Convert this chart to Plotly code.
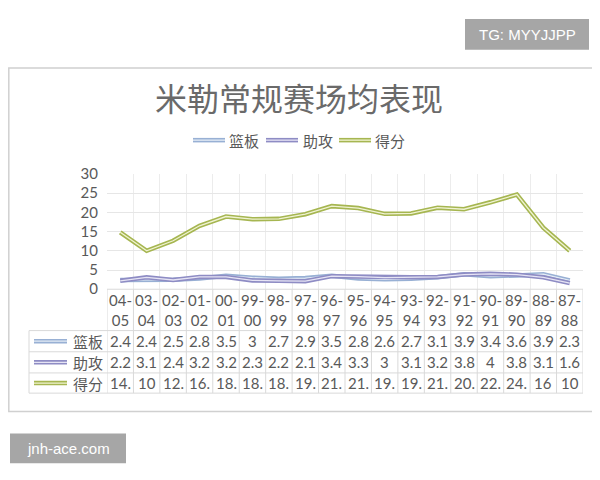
import plotly.graph_objects as go

# ---------------- data ----------------
categories = ["04-05", "03-04", "02-03", "01-02", "00-01", "99-00", "98-99", "97-98", "96-97",
              "95-96", "94-95", "93-94", "92-93", "91-92", "90-91", "89-90", "88-89", "87-88"]
rebounds = [2.4, 2.4, 2.5, 2.8, 3.5, 3.0, 2.7, 2.9, 3.5, 2.8, 2.6, 2.7, 3.1, 3.9, 3.4, 3.6, 3.9, 2.3]
assists = [2.2, 3.1, 2.4, 3.2, 3.2, 2.3, 2.2, 2.1, 3.4, 3.3, 3.0, 3.1, 3.2, 3.8, 4.0, 3.8, 3.1, 1.6]
points = [14.8, 10.0, 12.6, 16.5, 18.9, 18.2, 18.3, 19.5, 21.6, 21.1, 19.6, 19.7, 21.2, 20.8, 22.6, 24.6, 16.0, 10.0]
series_names = ["篮板", "助攻", "得分"]
y_ticks = [0, 5, 10, 15, 20, 25, 30]
title_text = "米勒常规赛场均表现"

# ---------------- styles ----------------
# page body has an 8px margin: the figure is placed at (8, 8) in the window
OFF = 8
W, H = 592, 472
outer_colors = ["#98b0d4", "#8e8cc4", "#a6b651"]
inner_colors = ["#e4ecf6", "#e6e4f4", "#f0f3d2"]
text_color = "#595959"
grid_color = "#d9d9d9"
CJK = "Noto Sans CJK SC"
NUM = "Lato"


def px(x):
    return (x - OFF) / W


def py(y):
    return 1 - (y - OFF) / H


plot_left, plot_right, plot_top, plot_bottom = 107, 583, 170, 290
row_lines = [333, 355, 377, 398]
legend_col_left = 29

x_idx = list(range(len(categories)))
series = [rebounds, assists, points]

fig = go.Figure()
for name, vals, oc, ic in zip(series_names, series, outer_colors, inner_colors):
    fig.add_trace(go.Scatter(x=x_idx, y=vals, mode="lines", name=name,
                             line=dict(color=oc, width=4.5), showlegend=False, hoverinfo="skip"))
    fig.add_trace(go.Scatter(x=x_idx, y=vals, mode="lines", name=name,
                             line=dict(color=ic, width=1.3), showlegend=False))

boundaries = [i - 0.5 for i in range(len(categories) + 1)]

fig.update_xaxes(domain=[px(plot_left), px(plot_right)], range=[-0.5, len(categories) - 0.5],
                 tickvals=boundaries, showticklabels=False, showgrid=True, gridcolor="#ececec",
                 gridwidth=1, zeroline=False, showline=False, fixedrange=True)
fig.update_yaxes(domain=[py(plot_bottom), py(plot_top)], range=[0, 30], tickvals=y_ticks,
                 showgrid=True, gridcolor="#e6e6e6", zeroline=False, showline=False,
                 tickfont=dict(family=NUM, size=15, color=text_color), ticks="",
                 ticklabelstandoff=8, fixedrange=True)

shapes = []
annotations = []

# outer frame (left edge kept inside the visible figure area)
shapes.append(dict(type="rect", xref="paper", yref="paper", x0=px(8.8), x1=px(597), y0=py(417), y1=py(60),
                   line=dict(color="#d0d0d0", width=1.5), layer="below"))

# axis line
shapes.append(dict(type="line", xref="paper", yref="paper", x0=px(plot_left), x1=px(plot_right),
                   y0=py(plot_bottom), y1=py(plot_bottom), line=dict(color=grid_color, width=1)))

# table vertical lines (category boundaries)
for b in boundaries:
    shapes.append(dict(type="line", xref="x", yref="paper", x0=b, x1=b,
                       y0=py(plot_bottom), y1=py(row_lines[-1]), line=dict(color=grid_color, width=1)))
# table left column border
shapes.append(dict(type="line", xref="paper", yref="paper", x0=px(legend_col_left), x1=px(legend_col_left),
                   y0=py(row_lines[0]), y1=py(row_lines[-1]), line=dict(color=grid_color, width=1)))
# table horizontal lines
for r in row_lines:
    shapes.append(dict(type="line", xref="paper", yref="paper", x0=px(legend_col_left), x1=px(plot_right),
                       y0=py(r), y1=py(r), line=dict(color=grid_color, width=1)))

# category labels (two lines)
for i, c in enumerate(categories):
    a, b = c.split("-")
    annotations.append(dict(x=i, y=py(312), xref="x", yref="paper", text=a + "-<br>" + b,
                            showarrow=False, font=dict(family=NUM, size=15, color=text_color),
                            xanchor="center", yanchor="middle", align="center"))


def cell_text(v):
    s = f"{v:g}"
    return s[:3]


# table rows
for r, (name, vals, oc, ic) in enumerate(zip(series_names, series, outer_colors, inner_colors)):
    yc = (row_lines[r] + row_lines[r + 1]) / 2
    # legend key in table
    shapes.append(dict(type="line", xref="paper", yref="paper", x0=px(34), x1=px(67),
                       y0=py(yc), y1=py(yc), line=dict(color=oc, width=4.5)))
    shapes.append(dict(type="line", xref="paper", yref="paper", x0=px(34), x1=px(67),
                       y0=py(yc), y1=py(yc), line=dict(color=ic, width=1.3)))
    annotations.append(dict(x=px(88), y=py(yc), xref="paper", yref="paper", text=name, showarrow=False,
                            font=dict(family=CJK, size=15, color=text_color), xanchor="center",
                            yanchor="middle"))
    for i, v in enumerate(vals):
        annotations.append(dict(x=i, y=py(yc), xref="x", yref="paper", text=cell_text(v), showarrow=False,
                                font=dict(family=NUM, size=15, color=text_color), xanchor="center",
                                yanchor="middle"))

# top legend (custom, double lines)
legend_items = [(193, 225, 244), (266, 298, 318), (339, 371, 390)]
for (s0, s1, tx), name, oc, ic in zip(legend_items, series_names, outer_colors, inner_colors):
    shapes.append(dict(type="line", xref="paper", yref="paper", x0=px(s0), x1=px(s1),
                       y0=py(135), y1=py(135), line=dict(color=oc, width=4.5)))
    shapes.append(dict(type="line", xref="paper", yref="paper", x0=px(s0), x1=px(s1),
                       y0=py(135), y1=py(135), line=dict(color=ic, width=1.3)))
    annotations.append(dict(x=px(tx), y=py(135), xref="paper", yref="paper", text=name, showarrow=False,
                            font=dict(family=CJK, size=15, color=text_color), xanchor="center",
                            yanchor="middle"))

# title
annotations.append(dict(x=px(299), y=py(90), xref="paper", yref="paper", text=title_text, showarrow=False,
                        font=dict(family=CJK, size=32, color="#6a6a6a"), xanchor="center", yanchor="middle"))

# watermark boxes
shapes.append(dict(type="rect", xref="paper", yref="paper", x0=px(465), x1=px(589), y0=py(41), y1=py(9),
                   fillcolor="#a6a6a6", line=dict(width=0)))
annotations.append(dict(x=px(527), y=py(25), xref="paper", yref="paper", text="TG: MYYJJPP", showarrow=False,
                        font=dict(family="Liberation Sans", size=15, color="white"),
                        xanchor="center", yanchor="middle"))
shapes.append(dict(type="rect", xref="paper", yref="paper", x0=px(10), x1=px(126), y0=py(471), y1=py(440),
                   fillcolor="#a6a6a6", line=dict(width=0)))
annotations.append(dict(x=px(68), y=py(455.5), xref="paper", yref="paper", text="jnh-ace.com", showarrow=False,
                        font=dict(family="Liberation Sans", size=15, color="white"),
                        xanchor="center", yanchor="middle"))

fig.update_layout(width=W, height=H, autosize=False, margin=dict(l=0, r=0, t=0, b=0),
                  paper_bgcolor="white", plot_bgcolor="white", showlegend=False,
                  shapes=shapes, annotations=annotations)

fig.write_html("out.html", config={"displayModeBar": False})
